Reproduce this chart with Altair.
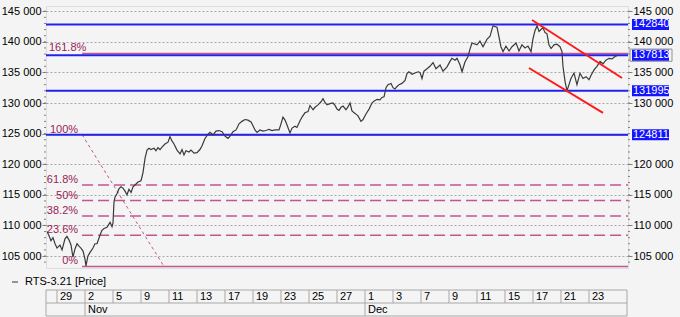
import altair as alt
import pandas as pd

# ---------------- data ----------------
# time in trading days (0 = 29 Oct), price of RTS-3.21
t_vals = [
    -0.71, -0.57, -0.43, -0.29, -0.14, 0.0, 0.21, 0.36, 0.57, 0.71, 0.86, 1.0,
    1.14, 1.29, 1.43, 1.57, 1.71, 1.86, 2.0, 2.07, 2.21, 2.36, 2.57, 2.71, 2.86,
    3.07, 3.21, 3.36, 3.57, 3.79, 3.93, 4.0, 4.07, 4.14, 4.29, 4.43, 4.57, 4.71,
    4.86, 5.0, 5.14, 5.29, 5.43, 5.57, 5.79, 6.0, 6.14, 6.29, 6.43, 6.57, 6.71,
    6.93, 7.07, 7.21, 7.36, 7.5, 7.71, 7.93, 8.07, 8.21, 8.36, 8.57, 8.79,
    8.93, 9.07, 9.21, 9.43, 9.57, 9.79, 10.0, 10.21, 10.36, 10.57, 10.79, 10.93,
    11.14, 11.36, 11.57, 11.79, 12.0, 12.21, 12.36, 12.57, 12.79, 13.0, 13.21, 13.43,
    13.64, 13.86, 14.0, 14.14, 14.29, 14.5, 14.71, 14.93, 15.14, 15.36, 15.57, 15.86,
    16.0, 16.14, 16.29, 16.43, 16.64, 16.79, 17.0, 17.14, 17.36, 17.5, 17.71, 17.93,
    18.07, 18.29, 18.43, 18.64, 18.86, 19.0, 19.14, 19.29, 19.5, 19.71, 19.86, 20.0, 20.14,
    20.29, 20.43, 20.64, 20.79, 20.93, 21.07, 21.29, 21.5, 21.71, 21.86, 22.07, 22.29, 22.5,
    22.64, 22.86, 23.07, 23.21, 23.36, 23.5, 23.64, 23.86, 24.0, 24.14, 24.29, 24.43, 24.64,
    24.86, 25.0, 25.14, 25.36, 25.57, 25.79, 25.93, 26.07, 26.21, 26.43, 26.64, 26.86,
    27.07, 27.36, 27.57, 27.86, 28.07, 28.21, 28.43, 28.57, 28.79, 28.93, 29.14, 29.36,
    29.5, 29.64, 30.0, 30.21, 30.43, 30.71, 30.93, 31.14, 31.43, 31.71, 31.86, 32.07, 32.29,
    32.5, 32.79, 33.0, 33.21, 33.43, 33.64, 33.86, 34.0, 34.14, 34.29, 34.43, 34.57, 34.71, 34.86,
    35.0, 35.14, 35.29, 35.5, 35.71, 35.93, 36.07, 36.14, 36.29, 36.43, 36.57, 36.71, 36.93,
    37.14, 37.36, 37.57, 37.79, 38.0, 38.14, 38.36, 38.57, 38.79, 39.0, 39.21, 39.43, 39.64, 39.86, 40.07,
]
price_vals = [
    109000, 108300, 107500, 108000, 107000, 106300, 106800, 106000, 107800, 108200, 107600, 106800,
    104800, 106200, 107000, 106600, 106300, 105800, 104500, 103400, 105000, 105600, 106300, 107000, 107000,
    108400, 109200, 109500, 109700, 110500, 109800, 110400, 113800, 114600, 115200, 116000, 116300, 116100,
    115600, 115000, 115900, 115400, 116300, 116600, 117100, 117300, 118600, 121000, 122300, 122600, 122400,
    122600, 122200, 122700, 122400, 122800, 123300, 123600, 124500, 123800, 123300, 122300, 121700,
    122400, 121500, 122200, 122000, 122300, 121800, 121900, 122400, 123000, 124200, 124900, 125200,
    124800, 125400, 125500, 125300, 124600, 124200, 124600, 125300, 125600, 126600, 127000, 127300,
    127200, 126900, 126300, 125600, 125200, 125600, 125400, 125500, 125700, 125500, 125600, 125600,
    126600, 127700, 127200, 126400, 125100, 125900, 126200, 126000, 127100, 127700, 128400, 128600,
    129600, 128900, 129300, 129700, 130200, 130700, 130100, 129700, 129900, 130000, 129600, 129000, 128800,
    129300, 129500, 128900, 129400, 130000, 128700, 128300, 127900, 127000, 127300, 128200, 129000, 130000,
    130300, 130600, 130500, 130900, 131000, 132500, 133000, 133200, 132500, 132300, 132700, 133000, 133200,
    133700, 134800, 135100, 134700, 134900, 135100, 135000, 134000, 135200, 135600, 136000, 136600,
    135600, 136200, 135200, 135900, 136800, 137300, 137000, 137300, 136200, 135100, 136700, 137600,
    138800, 139800, 139500, 140100, 139200, 140400, 140900, 142600, 142400, 139200, 138400, 139300, 138500,
    139200, 139800, 138500, 139500, 139000, 139300, 138400, 140500, 141800, 142600, 141700, 142000, 142300, 141500,
    141300, 139500, 138900, 139500, 139600, 139200, 138400, 136000, 133500, 132000, 133000, 134000, 134900,
    133000, 134850, 134000, 134300, 133800, 134500, 135400, 136000, 136800, 136400, 137000, 137300, 137200, 137600, 137800,
]

# horizontal price levels (blue) and their labels on the right
level_vals = [142840, 137813, 131995, 124811]
level_labels = ["142840", "137813", "131995", "124811"]
current_label = "137813"

# Fibonacci retracement
fib_labels = ["0%", "23.6%", "38.2%", "50%", "61.8%", "100%", "161.8%"]
fib_vals = [103300, 108380, 111520, 114055, 116595, 124811, 138105]
fib_dashed = ["23.6%", "38.2%", "50%", "61.8%"]
fib_start_t = 1.79
fib_diag_t = [1.79, 7.64]
fib_diag_v = [124811, 103300]

# red channel lines
chan_id = ["upper", "upper", "lower", "lower"]
chan_t = [33.93, 40.36, 33.71, 39.0]
chan_v = [143560, 134085, 135720, 128370]

# date axis
tick_t = [0, 2, 4, 6, 8, 10, 12, 14, 16, 18, 20, 22, 24, 26, 28, 30, 32, 34, 36, 38]
day_labels = ["29", "2", "5", "9", "11", "13", "17", "19", "23", "25", "27",
              "1", "3", "7", "9", "11", "15", "17", "21", "23"]
month_t = [2, 22]
month_labels = ["Nov", "Dec"]

y_ticks = [105000, 110000, 115000, 120000, 125000, 130000, 135000, 140000, 145000]
y_ticks_right = [105000, 110000, 115000, 120000, 130000, 135000, 140000, 145000]
y_minor = list(range(104000, 146000, 1000))

legend_text = "RTS-3.21 [Price]"

# ---------------- styling ----------------
W, H = 582, 262
FONT = "Liberation Sans"
BG = "#f4f4f4"
BLUE = "#2222ee"
FIB = "#c0568c"
FIBTXT = "#9b1b55"
GRID = "#a8a8a8"
TABLE = "#a8a8a8"

xs = alt.Scale(domain=[-0.786, 40.786], nice=False, zero=False)
ys = alt.Scale(domain=[103040, 145850], nice=False, zero=False)

price_df = pd.DataFrame({"t": t_vals, "price": price_vals})
level_df = pd.DataFrame({"v": level_vals, "label": level_labels})
fib_df = pd.DataFrame({"label": fib_labels, "v": fib_vals, "start": [fib_start_t] * len(fib_vals)})
diag_df = pd.DataFrame({"t": fib_diag_t, "v": fib_diag_v})
chan_df = pd.DataFrame({"id": chan_id, "t": chan_t, "v": chan_v})
tick_df = pd.DataFrame({"t": tick_t, "label": day_labels})
month_df = pd.DataFrame({"t": month_t, "label": month_labels})
minor_df = pd.DataFrame({"v": y_minor})
one = alt.Data(values=[{"k": 1}])

xaxis = alt.Axis(values=tick_t, labels=False, ticks=False, domain=False, grid=True,
                 gridDash=[2, 2], gridColor=GRID, title=None)
yaxis_common = dict(labelExpr="floor(datum.value/1000) + ' 000'",
                    tickSize=4, tickColor="#808080", labelPadding=1, labelFontSize=11,
                    labelColor="#000000", labelFont=FONT, domain=False, title=None)
yleft = alt.Axis(orient="left", values=y_ticks, grid=True, gridDash=[2, 2], gridColor=GRID, **yaxis_common)
yright = alt.Axis(orient="right", values=y_ticks_right, grid=False, **yaxis_common)

X = lambda f="t:Q": alt.X(f, scale=xs, axis=None)
Y = lambda f="v:Q": alt.Y(f, scale=ys, axis=None)

layers = []

# fib lines
layers.append(alt.Chart(fib_df).transform_filter(
    alt.FieldOneOfPredicate(field="label", oneOf=fib_dashed)).mark_rule(
    color=FIB, strokeWidth=1.5, strokeDash=[11, 5]).encode(
    x=X("start:Q"), x2=alt.value(W), y=Y()))
layers.append(alt.Chart(fib_df).transform_filter(
    ~alt.FieldOneOfPredicate(field="label", oneOf=fib_dashed)).mark_rule(
    color=FIB, strokeWidth=1.5).encode(x=X("start:Q"), x2=alt.value(W), y=Y()))
layers.append(alt.Chart(diag_df).mark_line(color=FIB, strokeWidth=1, strokeDash=[3, 3]).encode(
    x=X(), y=Y()))

# blue levels (carry the right axis)
layers.append(alt.Chart(level_df).mark_rule(color=BLUE, strokeWidth=2).encode(
    y=alt.Y("v:Q", scale=ys, axis=yright)))

# price line (carries the left axis and the grid)
layers.append(alt.Chart(price_df).mark_line(color="#3a3a3a", strokeWidth=1.2).encode(
    x=alt.X("t:Q", scale=xs, axis=xaxis),
    y=alt.Y("price:Q", scale=ys, axis=yleft)))

# red channel
layers.append(alt.Chart(chan_df).mark_line(color="#ff1a1a", strokeWidth=2).encode(
    x=X(), y=Y(), detail="id:N"))

# fib labels
layers.append(alt.Chart(fib_df).transform_filter(alt.datum.label != "161.8%").mark_text(
    align="right", baseline="alphabetic", dx=-4, dy=-2, fontSize=11, color=FIBTXT, font=FONT).encode(
    x=X("start:Q"), y=Y(), text="label:N"))
layers.append(alt.Chart(fib_df).transform_filter(alt.datum.label == "161.8%").mark_text(
    align="left", baseline="alphabetic", dy=-2, fontSize=11, color=FIBTXT, font=FONT).encode(
    x=alt.value(3), y=Y(), text="label:N"))

# minor ticks
layers.append(alt.Chart(minor_df).mark_rule(color="#808080").encode(
    x=alt.value(-2), x2=alt.value(0), y=Y()))
layers.append(alt.Chart(minor_df).mark_rule(color="#808080").encode(
    x=alt.value(W), x2=alt.value(W + 2), y=Y()))

# price boxes on the right
layers.append(alt.Chart(level_df).transform_filter(alt.datum.label == current_label).transform_calculate(
    lo="datum.v - 1000", hi="datum.v + 1000").mark_rect(
    filled=False, stroke="#909090", strokeWidth=1).encode(
    x=alt.value(W + 2), x2=alt.value(W + 44), y=Y("lo:Q"), y2="hi:Q"))
layers.append(alt.Chart(level_df).transform_calculate(
    lo="datum.v - 900", hi="datum.v + 900").mark_rect(color="#1414ff").encode(
    x=alt.value(W + 4), x2=alt.value(W + 41), y=Y("lo:Q"), y2="hi:Q"))
layers.append(alt.Chart(level_df).mark_text(
    align="left", baseline="middle", color="#ffffff", fontSize=11, font=FONT).encode(
    x=alt.value(W + 5), y=Y(), text="label:N"))

# date table below the plot
for py in [284, 297, 310]:
    layers.append(alt.Chart(one).mark_rule(color=TABLE).encode(
        x=alt.value(0), x2=alt.value(W - 1), y=alt.value(py)))
for px in [0, W - 1]:
    layers.append(alt.Chart(one).mark_rule(color=TABLE).encode(
        x=alt.value(px), y=alt.value(284), y2=alt.value(310)))
layers.append(alt.Chart(tick_df).mark_rule(color=TABLE).encode(
    x=X(), y=alt.value(284), y2=alt.value(297)))
layers.append(alt.Chart(month_df).mark_rule(color=TABLE).encode(
    x=X(), y=alt.value(297), y2=alt.value(310)))
layers.append(alt.Chart(tick_df).mark_text(
    align="left", baseline="middle", dx=3, fontSize=11, color="#000000", font=FONT).encode(
    x=X(), y=alt.value(291), text="label:N"))
layers.append(alt.Chart(month_df).mark_text(
    align="left", baseline="middle", dx=3, fontSize=11, color="#000000", font=FONT).encode(
    x=X(), y=alt.value(304), text="label:N"))

# legend
layers.append(alt.Chart(one).mark_rule(color="#333333").encode(
    x=alt.value(-34), x2=alt.value(-28), y=alt.value(276)))
layers.append(alt.Chart(one).mark_text(
    align="left", baseline="middle", fontSize=11, color="#000000", font=FONT, text=legend_text).encode(
    x=alt.value(-21), y=alt.value(276)))

chart = alt.layer(*layers).resolve_scale(y="shared").resolve_axis(y="independent").properties(
    width=W, height=H,
    autosize=alt.AutoSizeParams(type="none"),
    padding={"left": 46, "top": 6, "right": 52, "bottom": 49},
    background=BG,
).configure_view(fill=BG, stroke="#a0a0a0", strokeWidth=1).configure(font=FONT)

chart.save("out.html", embed_options={"renderer": "svg", "actions": False})
